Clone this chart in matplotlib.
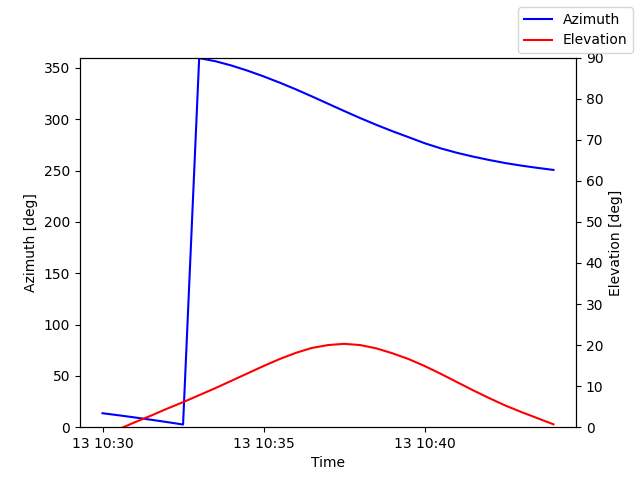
from datetime import datetime, timedelta

import matplotlib
matplotlib.use("Agg")
import matplotlib.pyplot as plt

# pass samples every 30 s starting 10:30:00
start = datetime(2023, 6, 13, 10, 30, 0)
step_s = 30
azimuth = [
    13.6, 11.6, 9.5, 7.3, 5.0, 2.6,
    359.5, 356.5, 352.3, 347.3, 341.7, 335.6, 329.1, 322.2, 315.1,
    308.0, 301.1, 294.5, 288.3, 282.5, 276.6, 271.6, 267.3, 263.6,
    260.3, 257.3, 254.8, 252.6, 250.6,
]
elevation = [
    -2.1, -0.5, 1.2, 2.8, 4.5, 6.1, 7.8, 9.5, 11.3, 13.1, 14.9,
    16.6, 18.1, 19.3, 20.0, 20.3, 20.0, 19.2, 18.0, 16.6, 14.9,
    13.0, 11.0, 9.0, 7.1, 5.3, 3.7, 2.2, 0.7,
]
times = [start + timedelta(seconds=step_s * i) for i in range(len(azimuth))]

fig, ax = plt.subplots(figsize=(6.4, 4.8), dpi=100)
ax.plot(times, azimuth, color="blue", label="Azimuth")
ax.set_ylim(0, 360)
ax.set_xlabel("Time")
ax.set_ylabel("Azimuth [deg]")

ax2 = ax.twinx()
ax2.plot(times, elevation, color="red", label="Elevation")
ax2.set_ylim(0, 90)
ax2.set_ylabel("Elevation [deg]")

fig.legend()
fig.savefig("out.png", dpi=100)
